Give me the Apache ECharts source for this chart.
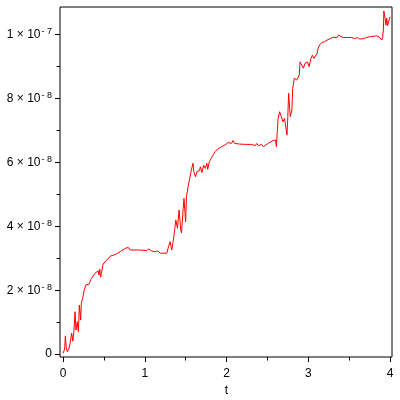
<!DOCTYPE html>
<html>
<head>
<meta charset="utf-8">
<script src="https://cdn.jsdelivr.net/npm/echarts@6/dist/echarts.min.js"></script>
<style>html,body{margin:0;padding:0;background:#fff}#c{width:400px;height:400px}</style>
</head>
<body>
<div id="c"></div>
<script>
// t values and y values (y in units of 1e-9)
const tValues = [0.0,0.02,0.029,0.04,0.053,0.07,0.086,0.106,0.12,0.135,0.147,0.159,0.175,0.188,0.200,0.216,0.224,0.24,0.26,0.28,0.32,0.34,0.36,0.39,0.41,0.43,0.44,0.45,0.46,0.47,0.49,0.53,0.58,0.64,0.70,0.76,0.78,0.80,0.82,0.84,0.87,0.94,1.02,
1.05,1.08,1.10,1.12,1.14,1.16,1.19,1.27,1.29,1.31,1.33,1.35,1.37,1.38,1.40,1.42,1.44,1.45,1.47,1.48,1.49,1.50,1.51,1.53,1.55,1.57,1.59,1.60,1.62,1.64,1.67,1.68,1.70,1.72,1.74,1.76,1.77,1.79,1.82,1.86,1.89,1.94,
1.98,2.02,2.04,2.06,2.08,2.10,2.12,2.16,2.23,2.31,2.33,2.35,2.37,2.39,2.43,2.45,2.51,2.57,2.60,2.61,2.63,2.65,2.67,2.69,2.71,2.74,2.75,2.76,2.78,2.80,2.81,2.83,2.86,2.89,2.90,2.92,2.94,2.96,2.99,3.01,3.03,3.05,3.07,
3.09,3.11,3.12,3.14,3.17,3.20,3.23,3.27,3.31,3.33,3.35,3.37,3.40,3.43,3.48,3.53,3.57,3.60,3.63,3.65,3.68,3.71,3.73,3.76,3.84,3.87,3.90,3.91,3.92,3.925,3.94,3.95,3.96,3.97,3.99,4.00];
const yNano = [0.2,1.5,5.6,2.0,0.7,1.5,3.2,6.5,4.0,7.5,13.2,7.5,10.1,7.0,15.3,10.6,15.8,17.4,20.0,21.6,21.8,23.3,23.9,25.2,24.7,26.0,24.7,26.5,24.0,25.2,28.1,29.2,30.6,31.1,32.0,33.0,32.5,33.3,32.5,33.0,32.5,32.5,32.3,
32.8,32.2,32.7,32.0,32.6,32.2,31.5,31.5,33.5,35.1,32.5,35.6,39.6,41.9,39.3,45.0,38.8,37.9,45.5,48.6,49.0,41.3,49.2,52.3,54.9,57.5,59.6,57.0,55.4,57.0,57.3,58.5,56.7,59.0,58.0,59.6,57.7,60.1,61.5,63.2,64.0,64.8,
65.3,66.1,66.7,65.8,66.7,65.8,66.4,65.6,65.5,65.5,65.8,65.1,65.8,65.1,65.5,64.8,65.8,66.7,66.9,64.8,73.3,75.7,74.2,72.6,73.6,68.4,74.2,81.5,74.2,76.2,83.0,86.2,85.6,87.2,91.3,90.3,89.3,90.8,91.3,89.8,92.1,93.4,92.4,
93.0,94.0,95.5,96.6,97.4,97.6,98.1,98.6,99.0,99.5,98.8,99.7,99.2,98.9,98.9,98.9,98.6,98.9,98.4,99.0,98.6,98.9,98.4,99.2,99.4,99.0,98.1,98.9,101.8,107.2,104.9,102.8,105.0,102.6,104.4,105.4];
const xTickMin = 0, xTickMax = 4, xTickStep = 1;
const yTickMin = 0, yTickMax = 100, yTickStep = 20;
const yDataMax = 108.44;

const data = tValues.map((t, i) => [t, yNano[i]]);
const font = 'Liberation Sans';
const black = '#000';
const hidden = {show: false};
const noAxis = {axisLine: hidden, axisTick: hidden, axisLabel: hidden, splitLine: hidden};
const chart = echarts.init(document.getElementById('c'), null, {renderer: 'canvas'});
chart.setOption({
  animation: false,
  backgroundColor: '#fff',
  grid: [
    // 0: frame
    {left: 60, right: 8, top: 7, bottom: 43, show: true, borderColor: black, borderWidth: 1, backgroundColor: 'transparent', containLabel: false, outerBoundsMode: 'none'},
    // 1: x ticks grid (x 0..4 from px 63 to 390, axis at y=357)
    {left: 63, right: 10, top: 7, bottom: 43, containLabel: false, outerBoundsMode: 'none'},
    // 2: y ticks grid (y 0..100 from px 354 to 34, axis at x=60)
    {left: 60, right: 8, top: 34, bottom: 46, containLabel: false, outerBoundsMode: 'none'},
    // 3: data grid
    {left: 63, right: 10, top: 7, bottom: 46, containLabel: false, outerBoundsMode: 'none'}
  ],
  xAxis: [
    Object.assign({gridIndex: 0, type: 'value', min: 0, max: 1}, noAxis),
    {
      gridIndex: 1, type: 'value', min: xTickMin, max: xTickMax, interval: xTickStep,
      name: 't', nameLocation: 'middle', nameGap: 26,
      nameTextStyle: {color: black, fontFamily: font, fontSize: 12},
      axisLine: {show: false},
      axisTick: {show: true, length: 5, inside: false, lineStyle: {color: black}},
      minorTick: {show: true, splitNumber: 2, length: 3.5, lineStyle: {color: black}},
      axisLabel: {color: black, fontFamily: font, fontSize: 12, margin: 11},
      splitLine: hidden, minorSplitLine: hidden
    },
    Object.assign({gridIndex: 2, type: 'value', min: 0, max: 1}, noAxis),
    Object.assign({gridIndex: 3, type: 'value', min: xTickMin, max: xTickMax}, noAxis)
  ],
  yAxis: [
    Object.assign({gridIndex: 0, type: 'value', min: 0, max: 1}, noAxis),
    Object.assign({gridIndex: 1, type: 'value', min: 0, max: 1}, noAxis),
    {
      gridIndex: 2, type: 'value', min: yTickMin, max: yTickMax, interval: yTickStep,
      axisLine: {show: false},
      axisTick: {show: true, length: 5, inside: false, lineStyle: {color: black}},
      minorTick: {show: true, splitNumber: 2, length: 3.5, lineStyle: {color: black}},
      axisLabel: {
        color: black, fontFamily: font, fontSize: 12, margin: 8,
        formatter: function (v) {
          if (v === 0) return '0';
          if (v === 100) return '{m|1 × 10}{s|- 7}';
          return '{m|' + (v / 10) + ' × 10}{s|- 8}';
        },
        rich: {
          m: {fontFamily: font, fontSize: 12, color: black, verticalAlign: 'bottom', lineHeight: 14},
          s: {fontFamily: font, fontSize: 9, color: black, verticalAlign: 'top', lineHeight: 14, padding: [0, 0, 0, 1]}
        }
      },
      splitLine: hidden, minorSplitLine: hidden
    },
    Object.assign({gridIndex: 3, type: 'value', min: 0, max: yDataMax}, noAxis)
  ],
  series: [{
    type: 'line', xAxisIndex: 3, yAxisIndex: 3, data: data, showSymbol: false, symbol: 'none', clip: false,
    lineStyle: {color: '#ff0000', width: 1}, itemStyle: {color: '#ff0000'}
  }]
});
</script>
</body>
</html>
